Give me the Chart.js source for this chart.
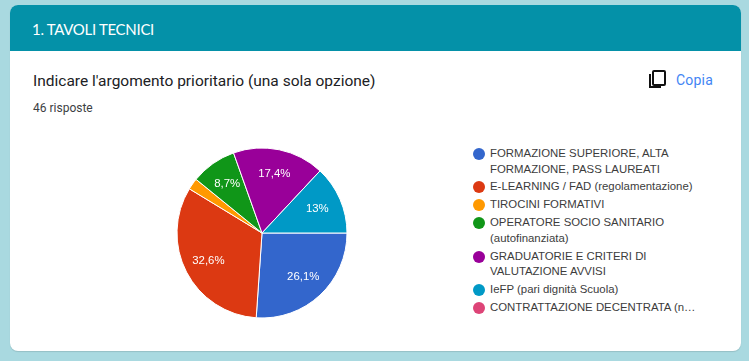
<!DOCTYPE html>
<html>
<head>
<meta charset="utf-8">
<title>Tavoli tecnici</title>
<script src="https://cdn.jsdelivr.net/npm/chart.js@4"></script>
<style>
	html, body { margin: 0; padding: 0; }
	body { width: 749px; height: 361px; background: #a9d9e0; overflow: hidden; position: relative; }
	.card { position: absolute; left: 10px; top: 5px; width: 731px; height: 346px; background: #fff; border-radius: 8px; box-shadow: 0 1px 1px rgba(0,0,0,0.12); overflow: hidden; }
	.header { position: absolute; left: 10px; top: 5px; width: 731px; height: 46px; background: #0491a8; border-radius: 8px 8px 0 0; }
	.section { position: absolute; left: 32px; top: 19px; color: #fff; font: 15px/20px Lato, sans-serif; letter-spacing: -0.3px; }
	.question { position: absolute; left: 33px; top: 71px; color: #202124; font: 15.5px/20px Roboto, sans-serif; }
	.count { position: absolute; left: 33px; top: 100px; color: #3c4043; font: 12px/16px Roboto, sans-serif; }
	.copy-icon { position: absolute; left: 648px; top: 69px; }
	.copy { position: absolute; left: 676px; top: 71px; color: #4285f4; font: 14px/18px Roboto, sans-serif; letter-spacing: 0.2px; }
	#pie { position: absolute; left: 162px; top: 133px; }
	.legend { position: absolute; left: 473px; top: 146px; width: 236px; margin: 0; padding: 0; list-style: none; font: 11.4px/15.6px "Liberation Sans", Arial, sans-serif; color: #3c3c3c; }
	.legend li { position: relative; padding-left: 17px; margin-bottom: 2.3px; }
	.legend i { position: absolute; left: 0; top: 2px; width: 12px; height: 12px; border-radius: 50%; }
</style>
</head>
<body>
<div class="card"></div>
<div class="header"></div>
<div class="section">1. TAVOLI TECNICI</div>
<div class="question">Indicare l'argomento prioritario (una sola opzione)</div>
<div class="count">46 risposte</div>
<svg class="copy-icon" width="18" height="20" viewBox="0 0 18 20" fill="none" stroke="#111" stroke-width="2">
	<rect x="5" y="2" width="12" height="14" rx="1"/>
	<path d="M2 5v13h11"/>
</svg>
<div class="copy">Copia</div>
<canvas id="pie" width="200" height="200"></canvas>
<ul class="legend" id="legend"></ul>

<script>
"use strict";

const categories = [
	'FORMAZIONE SUPERIORE, ALTA FORMAZIONE, PASS LAUREATI',
	'E-LEARNING / FAD (regolamentazione)',
	'TIROCINI FORMATIVI',
	'OPERATORE SOCIO SANITARIO (autofinanziata)',
	'GRADUATORIE E CRITERI DI VALUTAZIONE AVVISI',
	'IeFP (pari dignità Scuola)',
	'CONTRATTAZIONE DECENTRATA (n…'
];
const responses = [12, 15, 1, 4, 8, 6, 0];
const colours = ['#3366cc', '#dc3912', '#ff9900', '#109618', '#990099', '#0099c6', '#dd4477'];

const total = responses.reduce(function (a, b) { return a + b; }, 0);

// Percent text the way Forms writes it: comma, no trailing zero
function pctLabel(v) {
	return String(Math.round(v / total * 1000) / 10).replace('.', ',') + '%';
}

const sliceLabels = {
	id: 'sliceLabels',
	afterDatasetsDraw(chart) {
		const c = chart.ctx;
		c.save();
		c.fillStyle = '#fff';
		c.font = '11.4px "Liberation Sans", Arial, sans-serif';
		c.textAlign = 'center';
		c.textBaseline = 'middle';
		chart.getDatasetMeta(0).data.forEach(function (arc, i) {
			if (responses[i] / total < 0.05) return;	// too thin for text
			const p = arc.getProps(['x', 'y', 'startAngle', 'endAngle', 'outerRadius'], true);
			const mid = (p.startAngle + p.endAngle) / 2;
			c.fillText(pctLabel(responses[i]), p.x + Math.cos(mid) * p.outerRadius * 0.71, p.y + Math.sin(mid) * p.outerRadius * 0.71);
		});
		c.restore();
	}
};

new Chart(document.getElementById('pie'), {
	type: 'pie',
	data: {
		labels: categories,
		datasets: [{
			data: responses,
			backgroundColor: colours,
			borderColor: '#fff',
			borderWidth: 1
		}]
	},
	options: {
		responsive: false,
		animation: false,
		rotation: 90,
		radius: 85,
		plugins: {
			legend: { display: false },
			tooltip: { enabled: false }
		}
	},
	plugins: [sliceLabels]
});

const legend = document.getElementById('legend');
categories.forEach(function (name, i) {
	const li = document.createElement('li');
	const dot = document.createElement('i');
	dot.style.background = colours[i];
	li.appendChild(dot);
	li.appendChild(document.createTextNode(name));
	legend.appendChild(li);
});
</script>
</body>
</html>
